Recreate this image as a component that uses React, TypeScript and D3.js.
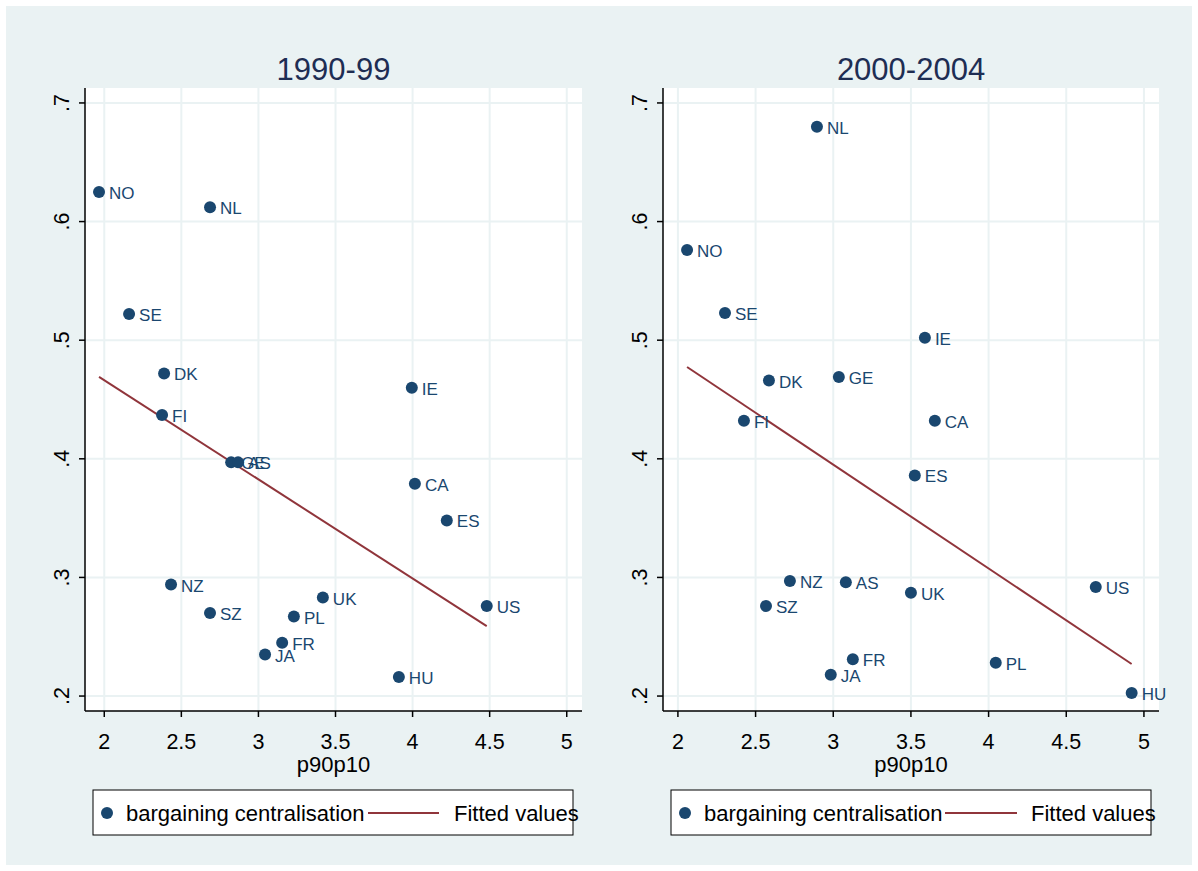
import React from "react";
import * as d3 from "d3";

// 1990-99 panel
const countries1990 = ["NO", "NL", "SE", "DK", "FI", "IE", "CA", "ES", "GE", "AS", "NZ", "SZ", "UK", "PL", "FR", "JA", "HU", "US"];
const p90p10_1990 = [1.966, 2.686, 2.161, 2.388, 2.375, 3.995, 4.015, 4.222, 2.823, 2.868, 2.433, 2.686, 3.418, 3.23, 3.154, 3.043, 3.911, 4.481];
const central1990 = [0.625, 0.612, 0.522, 0.472, 0.437, 0.46, 0.379, 0.348, 0.397, 0.397, 0.294, 0.27, 0.283, 0.267, 0.245, 0.235, 0.216, 0.276];
const fitX1990 = [1.966, 4.481];
const fitY1990 = [0.469, 0.259];

// 2000-2004 panel
const countries2000 = ["NL", "NO", "SE", "IE", "DK", "GE", "FI", "CA", "ES", "NZ", "AS", "SZ", "UK", "US", "FR", "JA", "PL", "HU"];
const p90p10_2000 = [2.895, 2.059, 2.303, 3.59, 2.586, 3.036, 2.425, 3.654, 3.525, 2.721, 3.081, 2.567, 3.5, 4.69, 3.126, 2.984, 4.046, 4.921];
const central2000 = [0.68, 0.576, 0.523, 0.502, 0.466, 0.469, 0.432, 0.432, 0.386, 0.297, 0.296, 0.276, 0.287, 0.292, 0.231, 0.218, 0.228, 0.2025];
const fitX2000 = [2.059, 4.921];
const fitY2000 = [0.4774, 0.227];

const xTicks = [2, 2.5, 3, 3.5, 4, 4.5, 5];
const yTicks = [0.2, 0.3, 0.4, 0.5, 0.6, 0.7];
const xTitle = "p90p10";
const legendLabels = ["bargaining centralisation", "Fitted values"];

const W = 1198;
const H = 871;
const BG = "#EAF2F3";
const NAVY = "#1a476f";
const RED = "#90353b";
const FONT = "'Liberation Sans', Arial, sans-serif";

interface PanelProps {
  title: string;
  names: string[];
  xs: number[];
  ys: number[];
  fitX: number[];
  fitY: number[];
  left: number;
  right: number;
  xDomain: [number, number];
  legend: { x0: number; x1: number; marker: number; text1: number; line0: number; line1: number; text2: number };
}

const Panel: React.FC<PanelProps> = ({ title, names, xs, ys, fitX, fitY, left, right, xDomain, legend }) => {
  const top = 88;
  const bottom = 711;
  const x = d3.scaleLinear().domain(xDomain).range([left, right]);
  const y = d3.scaleLinear().domain([0.1874, 0.7126]).range([bottom, top]);
  const fit = fitX.map((v, i) => [v, fitY[i]] as [number, number]);
  const line = d3
    .line<[number, number]>()
    .x((d) => x(d[0]))
    .y((d) => y(d[1]));
  const fmtY = (v: number) => d3.format(".1f")(v).replace(/^0/, "");

  return (
    <g>
      <text x={(left + right) / 2} y={80} textAnchor="middle" fontSize={31} fill="#1e2d53" fontFamily={FONT}>
        {title}
      </text>
      <rect x={left} y={top} width={right - left} height={bottom - top} fill="#fff" />
      {xTicks.map((t) => (
        <line key={"gx" + t} x1={x(t)} x2={x(t)} y1={top} y2={bottom} stroke={BG} strokeWidth={2} />
      ))}
      {yTicks.map((t) => (
        <line key={"gy" + t} x1={left} x2={right} y1={y(t)} y2={y(t)} stroke={BG} strokeWidth={2} />
      ))}
      <path d={line(fit) || ""} fill="none" stroke={RED} strokeWidth={2} />
      {xs.map((v, i) => (
        <g key={names[i] + i}>
          <circle cx={x(v)} cy={y(ys[i])} r={6} fill={NAVY} />
          <text x={x(v) + 10} y={y(ys[i]) + 1.5} dominantBaseline="central" fontSize={17} fill={NAVY} fontFamily={FONT}>
            {names[i]}
          </text>
        </g>
      ))}
      <line x1={left} x2={left} y1={top} y2={bottom} stroke="#000" strokeWidth={1.5} />
      <line x1={left} x2={right} y1={bottom} y2={bottom} stroke="#000" strokeWidth={1.5} />
      {xTicks.map((t) => (
        <g key={"tx" + t}>
          <line x1={x(t)} x2={x(t)} y1={bottom} y2={bottom + 6} stroke="#000" strokeWidth={1.5} />
          <text x={x(t)} y={749} textAnchor="middle" fontSize={21.5} fill="#000" fontFamily={FONT}>
            {String(t)}
          </text>
        </g>
      ))}
      {yTicks.map((t) => (
        <g key={"ty" + t}>
          <line x1={left - 6} x2={left} y1={y(t)} y2={y(t)} stroke="#000" strokeWidth={1.5} />
          <text
            transform={`translate(${left - 16},${y(t)}) rotate(-90)`}
            textAnchor="middle"
            fontSize={21.5}
            fill="#000"
            fontFamily={FONT}
          >
            {fmtY(t)}
          </text>
        </g>
      ))}
      <text x={(left + right) / 2} y={772} textAnchor="middle" fontSize={22} fill="#000" fontFamily={FONT}>
        {xTitle}
      </text>
      <rect x={legend.x0} y={790} width={legend.x1 - legend.x0} height={45} fill="#fff" stroke="#000" strokeWidth={1} />
      <circle cx={legend.marker} cy={813} r={6} fill={NAVY} />
      <text x={legend.text1} y={821} fontSize={22} fill="#000" fontFamily={FONT}>
        {legendLabels[0]}
      </text>
      <line x1={legend.line0} x2={legend.line1} y1={813} y2={813} stroke={RED} strokeWidth={2} />
      <text x={legend.text2} y={821} fontSize={22} fill="#000" fontFamily={FONT}>
        {legendLabels[1]}
      </text>
    </g>
  );
};

const App: React.FC = () => {
  return (
    <svg width={W} height={H} style={{ position: "absolute", left: 0, top: 0, display: "block" }}>
      <rect x={0} y={0} width={W} height={H} fill="#fff" />
      <rect x={6} y={6} width={W - 12} height={H - 12} fill={BG} />
      <Panel
        title="1990-99"
        names={countries1990}
        xs={p90p10_1990}
        ys={central1990}
        fitX={fitX1990}
        fitY={fitY1990}
        left={85}
        right={582}
        xDomain={[1.875, 5.099]}
        legend={{ x0: 93, x1: 573, marker: 107, text1: 126, line0: 368, line1: 439, text2: 454 }}
      />
      <Panel
        title="2000-2004"
        names={countries2000}
        xs={p90p10_2000}
        ys={central2000}
        fitX={fitX2000}
        fitY={fitY2000}
        left={663}
        right={1159}
        xDomain={[1.904, 5.097]}
        legend={{ x0: 671, x1: 1151, marker: 685, text1: 704, line0: 945, line1: 1017, text2: 1031 }}
      />
    </svg>
  );
};

export default App;
